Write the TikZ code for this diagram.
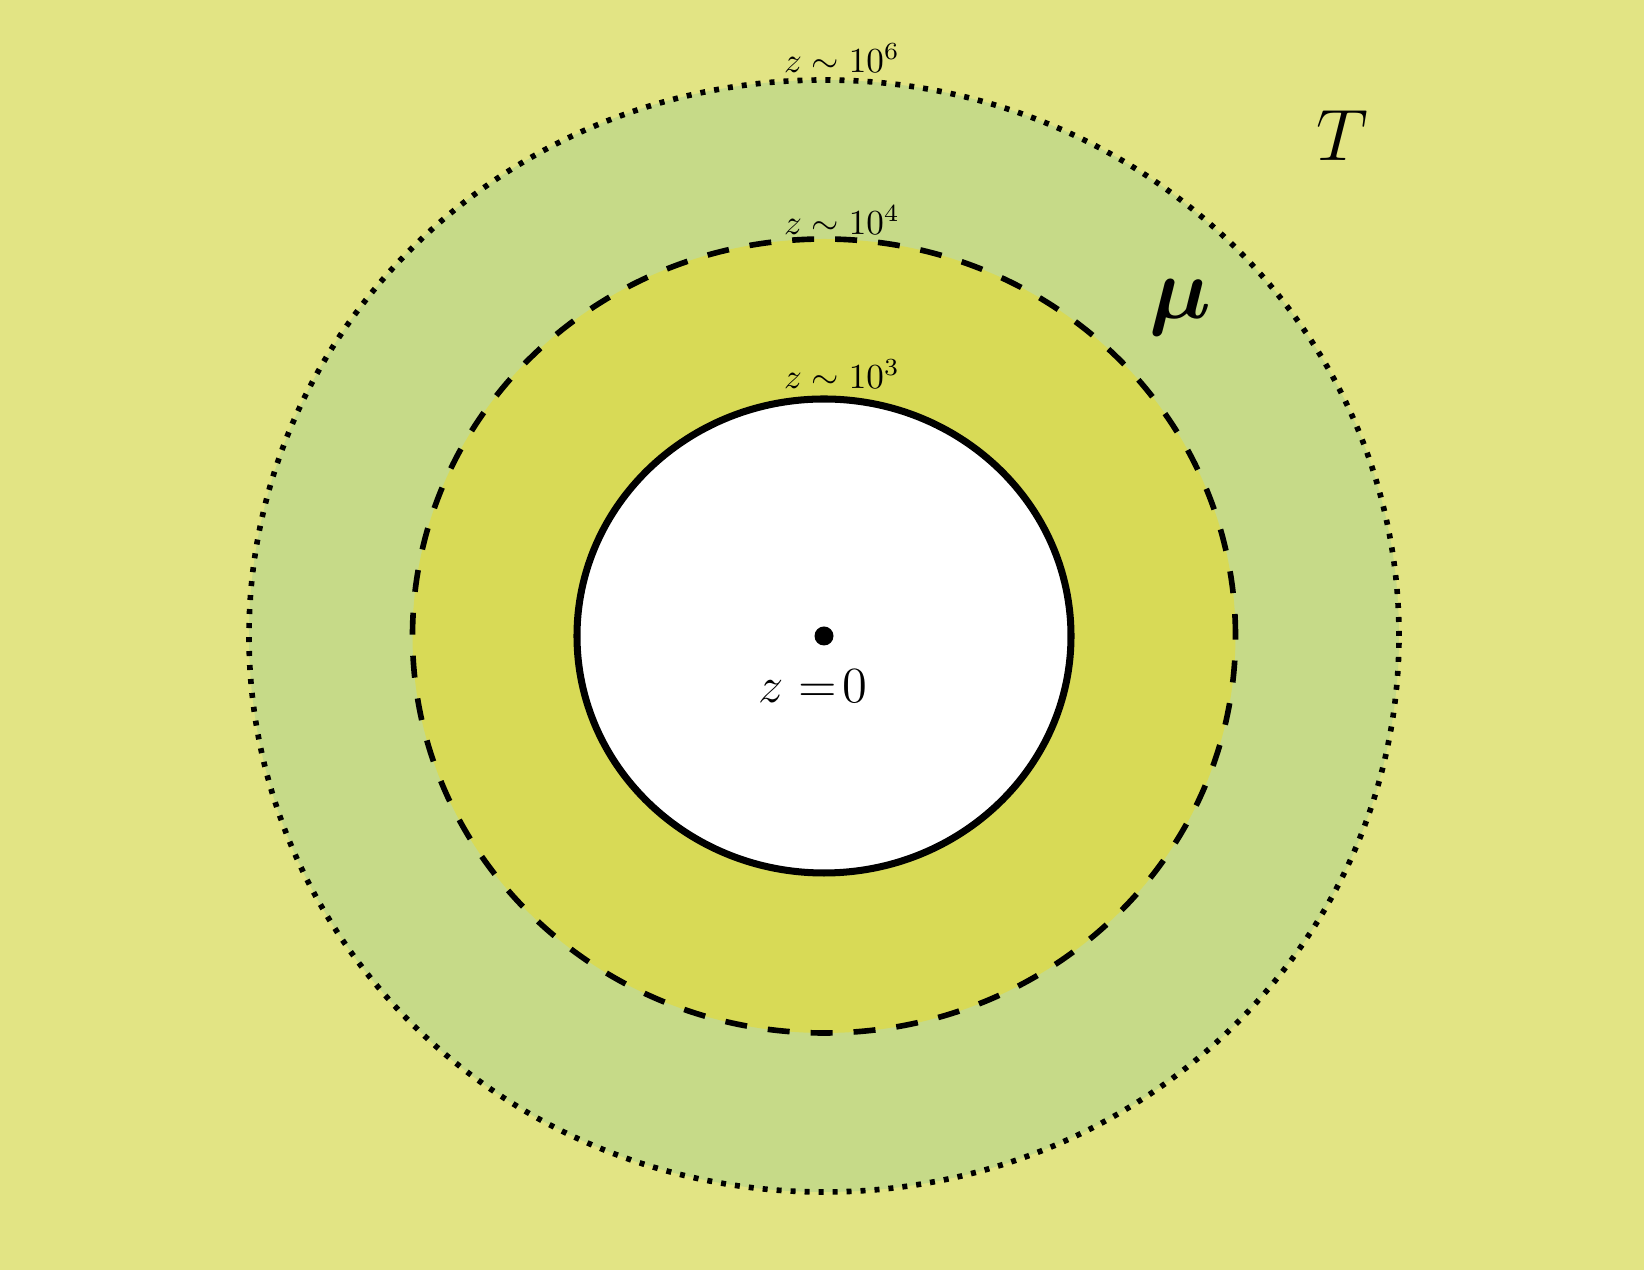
\documentclass[tikz,border=0pt]{standalone}
\usepackage{amsmath,amssymb}
\usetikzlibrary{positioning}
\definecolor{outerYel}{RGB}{226,228,132}
\definecolor{midGreen}{RGB}{198,218,136}
\definecolor{innerYel}{RGB}{216,218,86}

\begin{document}
\begin{tikzpicture}[
  lbl/.style={font=\normalsize, inner sep=1pt},
  zone/.style={font=\huge, inner sep=1pt},
  edgeline/.style={line width=2pt},
  dashline/.style={line width=1.6pt, dash pattern=on 2.2mm off 2.1mm},
  dotline/.style={line width=1.6pt, dash pattern=on 0.5mm off 0.9mm},
]

  % background and bounding box
  \fill[outerYel] (0,0) rectangle (16.44,12.70);
  \useasboundingbox (0,0) rectangle (16.44,12.70);

  \coordinate (c) at (8.24,6.34);

  % regions
  \fill[midGreen] (c) ellipse [x radius=5.75, y radius=5.56];
  \fill[innerYel] (c) ellipse [x radius=4.115, y radius=3.97];
  \fill[white] (c) ellipse [x radius=2.47, y radius=2.37];

  % boundaries
  \draw[dotline] (c) ellipse [x radius=5.75, y radius=5.56];
  \draw[dashline] (c) ellipse [x radius=4.115, y radius=3.97];
  \draw[edgeline] (c) ellipse [x radius=2.47, y radius=2.37];

  % centre point
  \fill (c) circle (0.095);
  \node[font=\fontsize{15}{18}\selectfont, inner sep=1pt] (zero) at (8.13,5.84) {$z=\!0$};

  % scale labels
  \node[lbl] (zsix) at (8.42,12.12) {$z\sim10^{6}$};
  \node[lbl] (zfour) at (8.42,10.50) {$z\sim10^{4}$};
  \node[lbl] (zthree) at (8.42,8.96) {$z\sim10^{3}$};

  % zone labels
  \node[zone] (tlab) at (13.42,11.34) {$T$};
  \node[zone, font=\fontsize{23}{26}\selectfont] (mulab) at (11.80,9.62) {$\boldsymbol{\mu}$};

\end{tikzpicture}
\end{document}
